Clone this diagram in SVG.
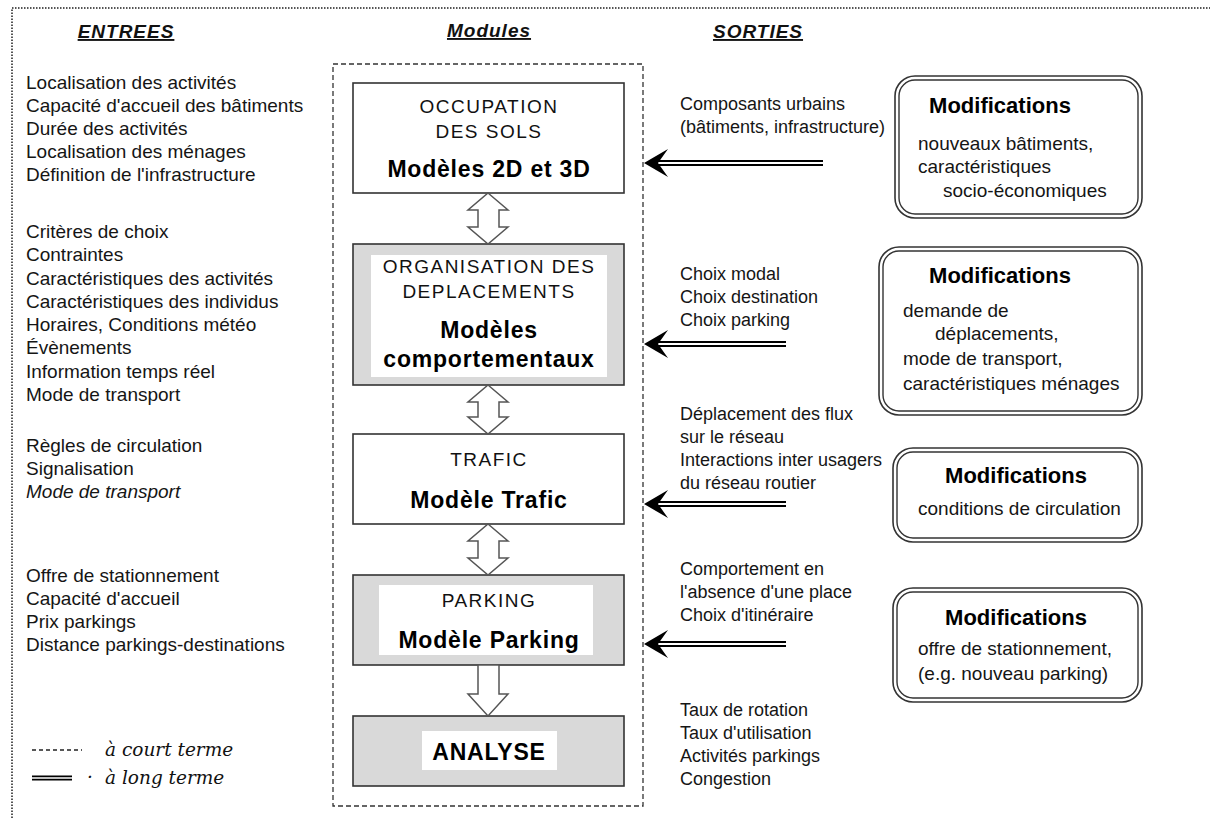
<svg xmlns="http://www.w3.org/2000/svg" width="1210" height="818" viewBox="0 0 1210 818">
<style>
.t{font-family:"Liberation Sans",Arial,sans-serif;font-size:19px;fill:#151515}
.r{font-family:"Liberation Sans",Arial,sans-serif;font-size:18px;fill:#151515}
.it{font-style:italic}
.hd{font-family:"Liberation Sans",Arial,sans-serif;font-size:19px;font-weight:bold;font-style:italic;text-decoration:underline;letter-spacing:1px;fill:#111;text-anchor:middle}
.cap{font-family:"Liberation Sans",Arial,sans-serif;font-size:19px;letter-spacing:1.5px;text-anchor:middle;fill:#111}
.big{font-family:"Liberation Sans",Arial,sans-serif;font-size:23px;font-weight:bold;letter-spacing:0.8px;text-anchor:middle;fill:#000}
.mod{font-family:"Liberation Sans",Arial,sans-serif;font-size:22px;font-weight:bold;text-anchor:middle;fill:#000}
.box{stroke:#333;stroke-width:1.6}
.white{fill:#fff}
.gray{fill:#d9d9d9}
.inner{fill:#fff}
.blk{fill:#fff;stroke:#555;stroke-width:1.5;stroke-linejoin:miter}
.rr{fill:#fff;stroke:#333;stroke-width:1.6}
.rri{fill:none;stroke:#333;stroke-width:1.4}
.lo{stroke:#000;stroke-width:6;fill:none}
.li{stroke:#fff;stroke-width:2;fill:none}
.leg{font-family:"DejaVu Serif","Liberation Serif",serif;font-style:italic;font-size:18.5px;fill:#111}
.frame{fill:none;stroke:#555;stroke-width:2;stroke-dasharray:1.5 1.5}
.cont{fill:none;stroke:#333;stroke-width:1.3;stroke-dasharray:5 3}
</style>
<defs>
<path id="head" d="M0,0 L24,-14 L14,0 L24,14 Z" fill="#000"/>
</defs>

<path class="frame" d="M12,818 L12,8 L1210,8"/>

<g id="headers">
<text class="hd" x="126" y="38">ENTREES</text>
<text class="hd" x="489" y="37">Modules</text>
<text class="hd" x="758" y="38">SORTIES</text>
</g>

<g id="inputs">
<text class="t" x="26" y="89">Localisation des activités</text>
<text class="t" x="26" y="112">Capacité d'accueil des bâtiments</text>
<text class="t" x="26" y="135">Durée des activités</text>
<text class="t" x="26" y="158">Localisation des ménages</text>
<text class="t" x="26" y="181">Définition de l'infrastructure</text>

<text class="t" x="26" y="238">Critères de choix</text>
<text class="t" x="26" y="261">Contraintes</text>
<text class="t" x="26" y="285">Caractéristiques des activités</text>
<text class="t" x="26" y="308">Caractéristiques des individus</text>
<text class="t" x="26" y="331">Horaires, Conditions météo</text>
<text class="t" x="26" y="354">Évènements</text>
<text class="t" x="26" y="378">Information temps réel</text>
<text class="t" x="26" y="401">Mode de transport</text>

<text class="t" x="26" y="452">Règles de circulation</text>
<text class="t" x="26" y="475">Signalisation</text>
<text class="t it" x="26" y="498">Mode de transport</text>

<text class="t" x="26" y="582">Offre de stationnement</text>
<text class="t" x="26" y="605">Capacité d'accueil</text>
<text class="t" x="26" y="628">Prix parkings</text>
<text class="t" x="26" y="651">Distance parkings-destinations</text>
</g>

<g id="legend">
<line x1="32" y1="750" x2="82" y2="750" stroke="#222" stroke-width="1.3" stroke-dasharray="4 3"/>
<text class="leg" x="105" y="756">à court terme</text>
<line class="lo" x1="32" y1="778" x2="72" y2="778" style="stroke-width:5"/>
<line class="li" x1="32" y1="778" x2="72" y2="778" style="stroke-width:1.5"/>
<text class="leg" x="87" y="783">·</text>
<text class="leg" x="105" y="784">à long terme</text>
</g>

<rect id="modules-container" class="cont" x="333" y="64" width="310" height="742"/>

<g id="occupation">
<rect class="box white" x="353" y="83" width="271" height="110"/>
<text class="cap" x="489" y="113">OCCUPATION</text>
<text class="cap" x="489" y="138">DES SOLS</text>
<text class="big" x="489" y="177">Modèles 2D et 3D</text>
</g>

<g id="organisation">
<rect class="box gray" x="353" y="244" width="271" height="141"/>
<rect class="inner" x="371" y="255" width="236" height="122"/>
<text class="cap" x="489" y="273">ORGANISATION DES</text>
<text class="cap" x="489" y="298">DEPLACEMENTS</text>
<text class="big" x="489" y="338">Modèles</text>
<text class="big" x="489" y="367">comportementaux</text>
</g>

<g id="trafic">
<rect class="box white" x="353" y="434" width="271" height="90"/>
<text class="cap" x="489" y="466">TRAFIC</text>
<text class="big" x="489" y="508">Modèle Trafic</text>
</g>

<g id="parking">
<rect class="box gray" x="353" y="575" width="271" height="90"/>
<rect class="inner" x="379" y="585" width="214" height="70"/>
<text class="cap" x="489" y="607">PARKING</text>
<text class="big" x="489" y="648">Modèle Parking</text>
</g>

<g id="analyse">
<rect class="box gray" x="353" y="716" width="271" height="70"/>
<rect class="inner" x="422" y="731" width="135" height="39"/>
<text class="big" x="489" y="760">ANALYSE</text>
</g>

<g id="outputs">
<text class="r" x="680" y="110">Composants urbains</text>
<text class="r" x="680" y="133">(bâtiments, infrastructure)</text>

<text class="r" x="680" y="280">Choix modal</text>
<text class="r" x="680" y="303">Choix destination</text>
<text class="r" x="680" y="326">Choix parking</text>

<text class="r" x="680" y="420">Déplacement des flux</text>
<text class="r" x="680" y="443">sur le réseau</text>
<text class="r" x="680" y="466">Interactions inter usagers</text>
<text class="r" x="680" y="489">du réseau routier</text>

<text class="r" x="680" y="575">Comportement en</text>
<text class="r" x="680" y="598">l'absence d'une place</text>
<text class="r" x="680" y="621">Choix d'itinéraire</text>

<text class="r" x="680" y="716">Taux de rotation</text>
<text class="r" x="680" y="739">Taux d'utilisation</text>
<text class="r" x="680" y="762">Activités parkings</text>
<text class="r" x="680" y="785">Congestion</text>
</g>

<g id="modif-sols">
<rect class="rr" x="895" y="76" width="247" height="142" rx="20"/>
<rect class="rri" x="899" y="80" width="239" height="134" rx="16"/>
<text class="mod" x="1000" y="113">Modifications</text>
<text class="t" x="918" y="150">nouveaux bâtiments,</text>
<text class="t" x="918" y="173">caractéristiques</text>
<text class="t" x="943" y="197">socio-économiques</text>
</g>

<g id="modif-deplacements">
<rect class="rr" x="879" y="247" width="263" height="168" rx="20"/>
<rect class="rri" x="883" y="251" width="255" height="160" rx="16"/>
<text class="mod" x="1000" y="283">Modifications</text>
<text class="t" x="903" y="317">demande de</text>
<text class="t" x="935" y="340">déplacements,</text>
<text class="t" x="903" y="365">mode de transport,</text>
<text class="t" x="903" y="390">caractéristiques ménages</text>
</g>

<g id="modif-trafic">
<rect class="rr" x="893" y="448" width="249" height="94" rx="20"/>
<rect class="rri" x="897" y="452" width="241" height="86" rx="16"/>
<text class="mod" x="1016" y="483">Modifications</text>
<text class="t" x="918" y="515">conditions de circulation</text>
</g>

<g id="modif-parking">
<rect class="rr" x="893" y="588" width="249" height="114" rx="20"/>
<rect class="rri" x="897" y="592" width="241" height="106" rx="16"/>
<text class="mod" x="1016" y="625">Modifications</text>
<text class="t" x="918" y="655">offre de stationnement,</text>
<text class="t" x="918" y="680">(e.g. nouveau parking)</text>
</g>

<g id="connectors">
<path class="blk" d="M488,193 L508,210 L499,210 L499,227 L508,227 L488,244 L468,227 L478,227 L478,210 L468,210 Z"/>
<path class="blk" d="M488,385 L508,402 L499,402 L499,417 L508,417 L488,434 L468,417 L478,417 L478,402 L468,402 Z"/>
<path class="blk" d="M488,524 L508,541 L499,541 L499,558 L508,558 L488,575 L468,558 L478,558 L478,541 L468,541 Z"/>
<path class="blk" d="M478,665 L499,665 L499,694 L508,694 L488,716 L468,694 L478,694 Z"/>

<line class="lo" x1="656" y1="163" x2="823" y2="163"/>
<line class="li" x1="656" y1="163" x2="823" y2="163"/>
<use href="#head" x="644" y="163"/>

<line class="lo" x1="656" y1="344" x2="786" y2="344"/>
<line class="li" x1="656" y1="344" x2="786" y2="344"/>
<use href="#head" x="644" y="344"/>

<line class="lo" x1="656" y1="504" x2="786" y2="504"/>
<line class="li" x1="656" y1="504" x2="786" y2="504"/>
<use href="#head" x="644" y="504"/>

<line class="lo" x1="656" y1="644" x2="786" y2="644"/>
<line class="li" x1="656" y1="644" x2="786" y2="644"/>
<use href="#head" x="644" y="644"/>
</g>
</svg>
